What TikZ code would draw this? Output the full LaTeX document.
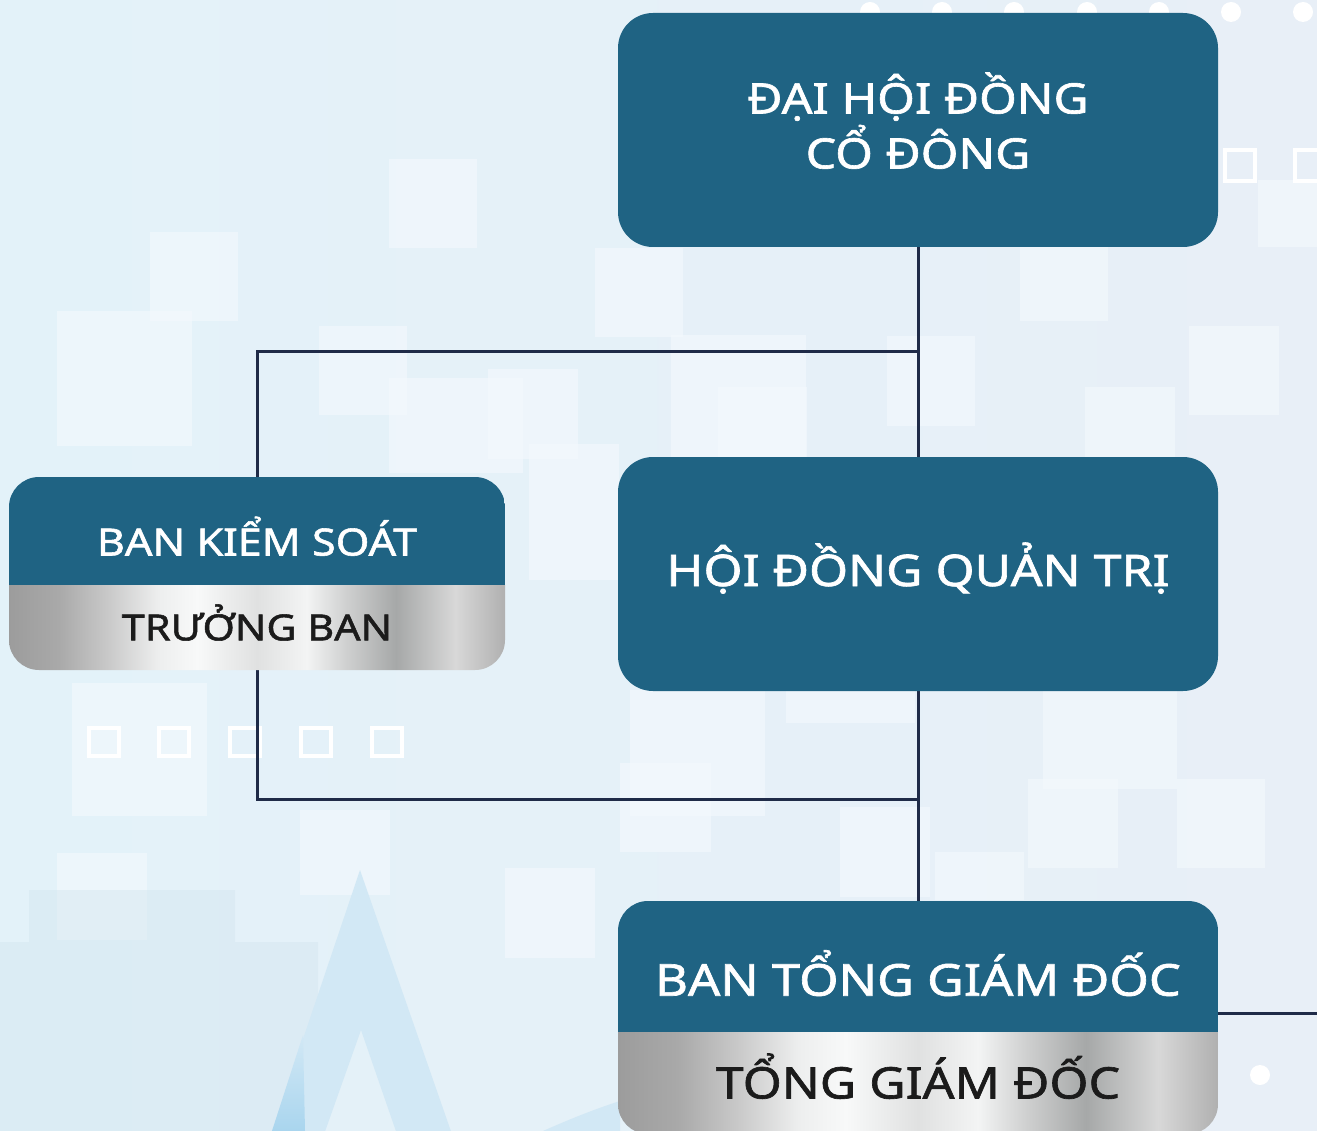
\documentclass[tikz,border=0pt]{standalone}
\usepackage{fontspec}
\setmainfont{Noto Sans}[FakeStretch=1.15,FakeBold=1.5]
\usetikzlibrary{positioning,backgrounds}
\definecolor{BoardBlue}{HTML}{1F6383}
\definecolor{LinkNavy}{HTML}{1F2B48}
\definecolor{SkyLeft}{HTML}{E3F2F9}
\definecolor{SkyRight}{HTML}{E8EFF7}
\definecolor{SkyTile}{HTML}{F4F9FD}
\definecolor{SkyMark}{HTML}{D2E8F5}
\definecolor{SkyDeep}{HTML}{A9D5EE}
\definecolor{SkyBuild}{HTML}{D3E5EF}
\definecolor{InkDark}{HTML}{1B1B1B}
\definecolor{SilA}{HTML}{9C9C9C}
\definecolor{SilB}{HTML}{A9A9A9}
\definecolor{SilC}{HTML}{C9C9C9}
\definecolor{SilD}{HTML}{EDEEEE}
\definecolor{SilE}{HTML}{F8F9F9}
\definecolor{SilF}{HTML}{E0E1E1}
\definecolor{SilG}{HTML}{F3F4F4}
\definecolor{SilH}{HTML}{CFD0D0}
\definecolor{SilI}{HTML}{A6A8A8}
\definecolor{SilJ}{HTML}{D8D8D8}
\definecolor{SilK}{HTML}{B0B0B0}
\pgfdeclarehorizontalshading{silver}{100bp}{color(0bp)=(SilA); color(25bp)=(SilA);
  color(30bp)=(SilB); color(35bp)=(SilC); color(40bp)=(SilD); color(44bp)=(SilE);
  color(50bp)=(SilF); color(55bp)=(SilG); color(59bp)=(SilH); color(64bp)=(SilI);
  color(70bp)=(SilJ); color(75bp)=(SilK); color(100bp)=(SilK)}

% blue head over a silver strip, clipped to one rounded card
\newcommand\cardfill[2]{%
  \begin{scope}
    \clip[rounded corners=30pt] (#1.north west) rectangle (#2.south east);
    \fill[BoardBlue] (#1.north west) rectangle (#1.south east);
    \shade[shading=silver] (#2.north west) rectangle (#2.south east);
  \end{scope}}

\begin{document}
\begin{tikzpicture}[x=1pt,y=-1pt,
    mainbox/.style={fill=BoardBlue,rounded corners=35pt,text=white,inner sep=0pt,
      outer sep=0pt,align=center,minimum width=600pt,minimum height=234pt},
    headbox/.style={text=white,inner sep=0pt,outer sep=0pt,text depth=0pt},
    subbox/.style={text=InkDark,inner sep=0pt,outer sep=0pt,text depth=0pt},
    link/.style={LinkNavy,line width=3pt},
    tile/.style={fill=SkyTile,opacity=0.6}]
  \path[use as bounding box] (0,0) rectangle (1317,1131);

  \node[mainbox,font=\fontsize{42}{55}\selectfont,text height=77pt,text depth=0pt]
        (dhdcd) at (918,130) {ĐẠI HỘI ĐỒNG\\CỔ ĐÔNG};
  \node[mainbox,font=\fontsize{43.5}{54}\selectfont,text height=24pt,text depth=0pt,
        below=210pt of dhdcd] (hdqt) {HỘI ĐỒNG QUẢN TRỊ};

  \node[headbox,minimum width=496pt,minimum height=108pt,text height=49pt,
        font=\fontsize{37.5}{42}\selectfont] (bks) at (257,531) {BAN KIỂM SOÁT};
  \node[subbox,minimum width=496pt,minimum height=85pt,text height=25.7pt,
        font=\fontsize{36}{40}\selectfont,below=0pt of bks] (bksTb) {TRƯỞNG BAN};

  \node[headbox,minimum width=600pt,minimum height=131pt,text height=58.4pt,
        font=\fontsize{44}{54}\selectfont,below=210pt of hdqt] (btgd) {BAN TỔNG GIÁM ĐỐC};
  \node[subbox,minimum width=600pt,minimum height=102pt,text height=31pt,
        font=\fontsize{43.5}{50}\selectfont,below=0pt of btgd] (btgdTgd) {TỔNG GIÁM ĐỐC};

  \coordinate (jTop) at (918,352);
  \coordinate (jLow) at (918,799);
  \coordinate (rEdge) at (1317,1013);

  \begin{scope}[on background layer]
    % backdrop
    \fill[left color=SkyLeft,right color=SkyRight] (0,0) rectangle (1317,1131);
    \foreach \x/\y/\w/\h in {389/159/88/89,150/232/88/89,57/311/135/135,319/326/88/89,
        389/378/134/95,488/369/90/90,595/248/88/89,529/444/90/136,1020/247/88/74,
        1189/326/90/89,1085/387/90/73,887/336/88/90,718/387/89/73,671/335/135/125,
        1043/690/134/99,1028/779/90/89,1177/779/88/89,840/807/90/90,935/852/89/48,
        620/763/91/89,630/690/135/126,786/690/129/33,72/683/135/133,57/853/90/87,
        300/810/90/85,505/868/90/90,1258/180/59/67}
      \fill[tile] (\x,\y) rectangle ++(\w,\h);
    \fill[SkyBuild,opacity=0.45] (0,1131) -- (0,942) -- (29,942) -- (29,890) -- (235,890)
      -- (235,942) -- (318,942) -- (318,1131) -- cycle;
    \fill[SkyMark,even odd rule] (360,870) -- (269,1140) -- (454,1140) -- cycle
      (361,1030) -- (322,1140) -- (399,1140) -- cycle;
    \shade[top color=SkyMark,bottom color=SkyDeep] (303,1035) -- (305,1131) -- (272,1131) -- cycle;
    \fill[SkyMark] (543,1131) .. controls (570,1119) and (595,1109) .. (620,1101) -- (620,1131) -- cycle;
    \foreach \x in {870,942,1014,1087,1159,1231,1303}
      \fill[white] (\x,12) circle[radius=10];
    \fill[white] (1260,1075) circle[radius=10];
    \foreach \x in {87,157,228,299,370}
      \draw[white,line width=4pt] (\x+2,728) rectangle ++(30,28);
    \draw[white,line width=4pt] (1225,150) rectangle ++(30,31);
    \draw[white,line width=4pt] (1295,150) rectangle ++(30,31);

    % connectors
    \draw[link] (dhdcd) -- (btgd);
    \draw[link] (bks) |- (jTop);
    \draw[link] (bksTb) |- (jLow);
    \draw[link] (btgd.east |- rEdge) -- (rEdge);

    \cardfill{bks}{bksTb}
    \cardfill{btgd}{btgdTgd}
  \end{scope}
\end{tikzpicture}
\end{document}
